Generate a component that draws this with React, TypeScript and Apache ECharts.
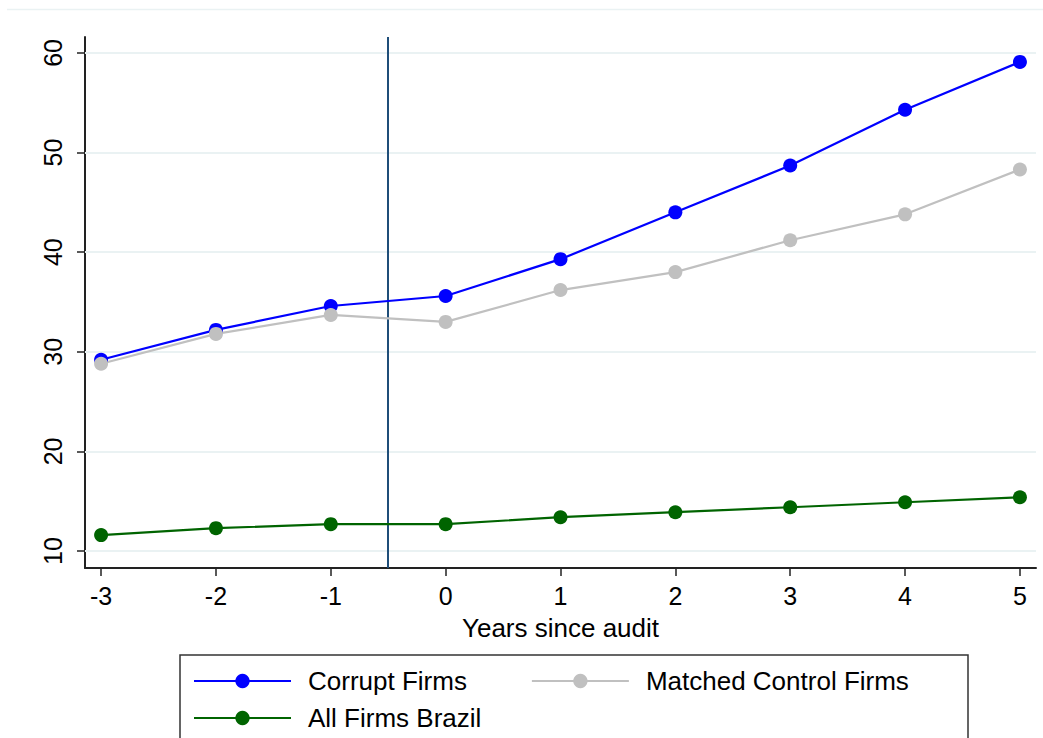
import React, { useEffect, useRef } from "react";
import * as echarts from "echarts";

const years = [-3, -2, -1, 0, 1, 2, 3, 4, 5];
const corrupt = [29.2, 32.2, 34.6, 35.6, 39.3, 44.0, 48.7, 54.3, 59.1];
const matched = [28.8, 31.8, 33.7, 33.0, 36.2, 38.0, 41.2, 43.8, 48.3];
const allFirms = [11.6, 12.3, 12.7, 12.7, 13.4, 13.9, 14.4, 14.9, 15.4];
const yTicks = [10, 20, 30, 40, 50, 60];
const xTicks = [-3, -2, -1, 0, 1, 2, 3, 4, 5];
const auditLine = -0.5;
const names = ["Corrupt Firms", "Matched Control Firms", "All Firms Brazil"];

const FONT = "'Liberation Sans', Arial, Helvetica, sans-serif";

export default function App() {
  const ref = useRef<HTMLDivElement>(null);
  useEffect(() => {
    if (!ref.current) return;
    const chart = echarts.init(ref.current, undefined, { renderer: "svg" });
    const pairs = (vals: number[]) => years.map((x, i) => [x, vals[i]]);
    const lineSeries = (name: string, vals: number[], color: string) => ({
      name,
      type: "line",
      data: pairs(vals),
      symbol: "circle",
      symbolSize: 14,
      lineStyle: { color, width: 2.2 },
      itemStyle: { color },
      z: 5,
    });
    const legendCommon = {
      itemWidth: 97,
      itemHeight: 18,
      textStyle: { fontFamily: FONT, fontSize: 26, color: "#000", padding: [0, 0, 0, 12] },
      padding: 0,
    };
    chart.setOption({
      animation: false,
      backgroundColor: "#fff",
      grid: { left: 85, right: 7, top: 37, bottom: 170, containLabel: false },
      xAxis: {
        type: "value",
        min: -3.14,
        max: 5.14,
        name: "Years since audit",
        nameLocation: "middle",
        nameGap: 47,
        nameTextStyle: { fontFamily: FONT, fontSize: 26, color: "#000" },
        axisLine: { show: true, onZero: false, lineStyle: { color: "#222", width: 2 } },
        axisTick: { show: true, length: 8, customValues: xTicks, lineStyle: { color: "#222", width: 1.5 } },
        axisLabel: { customValues: xTicks, fontFamily: FONT, fontSize: 25, color: "#000", margin: 15 },
        splitLine: { show: false },
      },
      yAxis: {
        type: "value",
        min: 8.3,
        max: 61.6,
        axisLine: { show: true, onZero: false, lineStyle: { color: "#222", width: 2 } },
        axisTick: { show: true, length: 8, customValues: yTicks, lineStyle: { color: "#222", width: 1.5 } },
        axisLabel: { customValues: yTicks, rotate: 90, fontFamily: FONT, fontSize: 25, color: "#000", margin: 20 },
        splitLine: { show: false },
      },
      legend: [
        { ...legendCommon, data: [names[0], names[1]], left: 193, top: 668, itemGap: 64 },
        { ...legendCommon, data: [names[2]], left: 193, top: 705 },
      ],
      graphic: [
        {
          type: "rect",
          shape: { x: 180, y: 655, width: 788, height: 120 },
          style: { fill: "none", stroke: "#333", lineWidth: 1.5 },
          silent: true,
        },
        {
          type: "line",
          shape: { x1: 7, y1: 9.5, x2: 1043, y2: 9.5 },
          style: { stroke: "#eaf2f3", lineWidth: 1.5 },
          silent: true,
        },
      ],
      series: [
        {
          type: "line",
          data: [],
          silent: true,
          markLine: {
            silent: true,
            symbol: "none",
            label: { show: false },
            lineStyle: { color: "#eaf2f3", width: 2, type: "solid" },
            data: yTicks.map((v) => ({ yAxis: v })),
          },
          z: 1,
        },
        {
          type: "line",
          data: [],
          silent: true,
          markLine: {
            silent: true,
            symbol: "none",
            label: { show: false },
            lineStyle: { color: "#1f4e79", width: 2, type: "solid" },
            data: [{ xAxis: auditLine }],
          },
          z: 2,
        },
        lineSeries(names[0], corrupt, "#0000ff"),
        lineSeries(names[1], matched, "#c0c0c0"),
        lineSeries(names[2], allFirms, "#006400"),
      ],
    });
    return () => chart.dispose();
  }, []);
  return (
    <div
      ref={ref}
      style={{ position: "absolute", left: 0, top: 0, width: 1043, height: 738 }}
    />
  );
}
